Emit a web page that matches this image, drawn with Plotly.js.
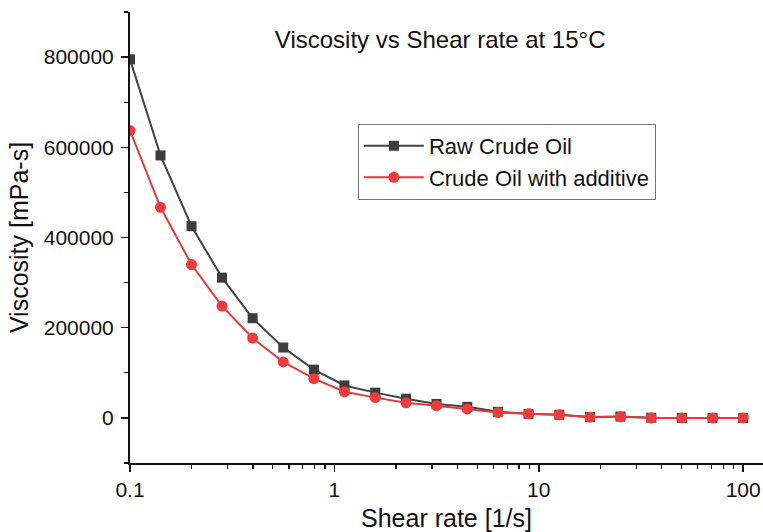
<!DOCTYPE html>
<html>
<head>
<meta charset="utf-8">
<script src="https://cdn.plot.ly/plotly-3.0.1.min.js"></script>
<style>html,body{margin:0;padding:0;background:#fff;}#chart{width:763px;height:532px;}</style>
</head>
<body>
<div id="chart"></div>
<script>
var shearRate = [0.1, 0.141, 0.2, 0.282, 0.398, 0.562, 0.794, 1.12, 1.585, 2.24, 3.16, 4.47, 6.31, 8.91, 12.6, 17.8, 25.1, 35.5, 50.1, 70.8, 100];
var rawCrude = [795000, 582000, 425000, 311000, 221000, 156000, 107000, 72000, 56000, 42500, 31000, 24500, 13500, 9000, 7000, 2000, 3000, 500, 0, 0, 0];
var withAdditive = [637000, 467000, 340000, 248000, 177000, 124000, 87000, 58000, 45000, 33500, 27000, 20000, 12000, 9000, 7000, 1500, 2500, 0, 0, 0, 0];
var seriesNames = ["Raw Crude Oil", "Crude Oil with additive"];
var xTickVals = [0.1, 1, 10, 100];
var xTickText = ["0.1", "1", "10", "100"];
var yTickVals = [0, 200000, 400000, 600000, 800000];
var yTickText = ["0", "200000", "400000", "600000", "800000"];

var FONT = "Arial, 'Liberation Sans', sans-serif";

var traces = [
  {
    x: shearRate, y: rawCrude, name: seriesNames[0], type: "scatter", mode: "lines+markers",
    line: {color: "#444444", width: 2},
    marker: {symbol: "square", size: 10, color: "#3d3d3d"}
  },
  {
    x: shearRate, y: withAdditive, name: seriesNames[1], type: "scatter", mode: "lines+markers",
    line: {color: "#e8393b", width: 2},
    marker: {symbol: "circle", size: 11, color: "#ef3b3d"}
  }
];

var layout = {
  width: 763, height: 532,
  margin: {l: 130, r: 0, t: 12, b: 69, pad: 0},
  paper_bgcolor: "#ffffff", plot_bgcolor: "#ffffff",
  font: {family: FONT, color: "#111111", size: 21},
  showlegend: true,
  title: {
    text: "Viscosity vs Shear rate at 15°C",
    font: {family: FONT, size: 24, color: "#111111"},
    xref: "paper", x: 0.49, xanchor: "center",
    yref: "container", y: 0.925, yanchor: "middle"
  },
  xaxis: {
    type: "log",
    range: [-1, 2.097],
    showgrid: false, zeroline: false,
    showline: true, linecolor: "#111111", linewidth: 2,
    ticks: "outside", ticklen: 7, tickwidth: 1.5, tickcolor: "#111111",
    tickmode: "array", tickvals: xTickVals, ticktext: xTickText,
    tickfont: {family: FONT, size: 21, color: "#111111"},
    minor: {ticks: "outside", ticklen: 4, tickwidth: 1.2, tickcolor: "#111111", dtick: "D1", showgrid: false},
    title: {text: "Shear rate [1/s]", font: {family: FONT, size: 25, color: "#111111"}, standoff: 12}
  },
  yaxis: {
    range: [-100000, 900000],
    showgrid: false, zeroline: false,
    showline: true, linecolor: "#111111", linewidth: 2,
    ticks: "outside", ticklen: 7, tickwidth: 1.5, tickcolor: "#111111",
    tickmode: "array", tickvals: yTickVals, ticktext: yTickText,
    tickfont: {family: FONT, size: 21, color: "#111111"},
    ticklabelstandoff: 3,
    minor: {ticks: "outside", ticklen: 4, tickwidth: 1.2, tickcolor: "#111111", dtick: 100000, showgrid: false},
    title: {text: "Viscosity [mPa-s]", font: {family: FONT, size: 25, color: "#111111"}, standoff: 8}
  },
  legend: {
    x: 0.36, y: 0.752, xanchor: "left", yanchor: "top",
    bgcolor: "#ffffff", bordercolor: "#777777", borderwidth: 1,
    font: {family: FONT, size: 22, color: "#111111"},
    itemwidth: 60, tracegroupgap: 0
  }
};

Plotly.newPlot("chart", traces, layout, {displayModeBar: false, staticPlot: true});
</script>
</body>
</html>
